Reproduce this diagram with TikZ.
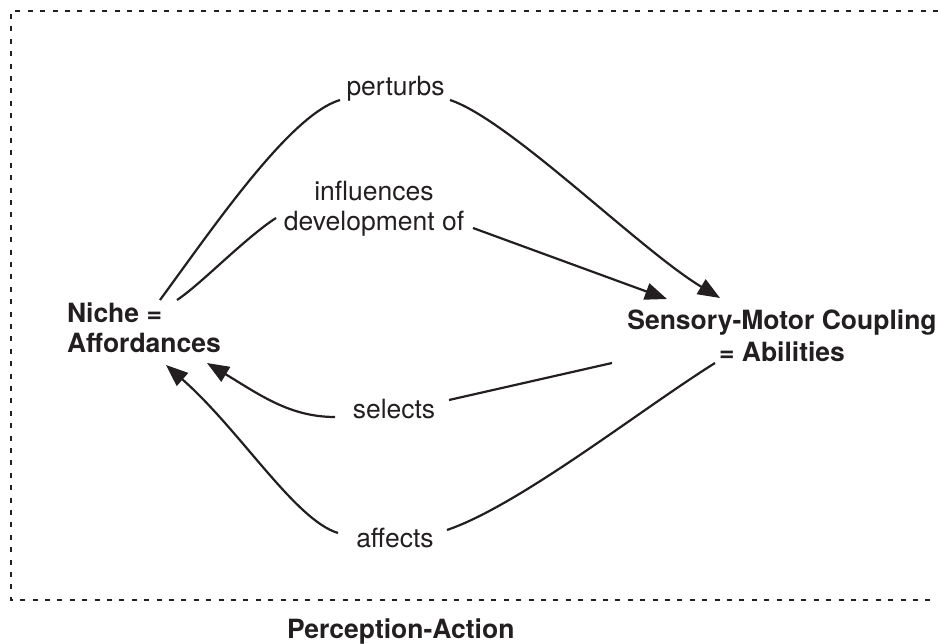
\documentclass[tikz,border=0pt]{standalone}
\usepackage{fontspec}
\setmainfont{TeX Gyre Heros}
\usetikzlibrary{arrows.meta}
\definecolor{ink}{HTML}{231F20}
\begin{document}
\begin{tikzpicture}[x=1pt,y=-1pt,
  every node/.style={inner sep=0pt,outer sep=0pt,text=ink,font=\fontsize{26.5}{30}\selectfont},
  concept/.style={font=\fontsize{26.5}{30}\selectfont\bfseries},
  rel/.style={anchor=base},
  link/.style={draw=ink,line width=2.2pt},
  arr/.style={link,-{Triangle[length=22pt,width=17pt]}},
  frame/.style={draw=ink,line width=2.2pt,dash pattern=on 5pt off 7.4pt}]
\useasboundingbox (0,0) rectangle (938,644);

% open dashed frame (top, left and bottom sides)
\draw[frame] (938,11) -- (11,11) -- (11,600) -- (930,600);
\node[concept,anchor=base west] (frametitle) at (287,638) {Perception-Action};

% the two concepts
\node[concept,align=left,anchor=north west] (niche) at (67,303) {Niche =\\Affordances};
\node[concept,align=center,anchor=north] (smc) at (782,310) {Sensory-Motor Coupling\\[2pt]= Abilities};

% relation labels
\node[rel] (perturbs) at (395.5,96) {perturbs};
\node[align=center,anchor=north] (influences) at (374,181) {influences\\development of};
\node[rel] (selects) at (394,419) {selects};
\node[rel] (affects) at (395,547) {affects};

% connector end points
\coordinate (pA) at (160,300);
\coordinate (pB) at (340,100);
\coordinate (pC) at (450,100);
\coordinate (pD) at (720,298);
\coordinate (iA) at (177,300);
\coordinate (iB) at (276,218);
\coordinate (iC) at (473,228);
\coordinate (iD) at (667,299);
\coordinate (sA) at (612,363);
\coordinate (sB) at (449,400);
\coordinate (sC) at (335,417);
\coordinate (sD) at (207,363);
\coordinate (aA) at (715,363);
\coordinate (aB) at (447,530);
\coordinate (aC) at (338,533);
\coordinate (aD) at (166,365);

% niche perturbs coupling
\draw[link] (pA) .. controls (215,225) and (290,115) .. (pB);
\draw[arr] (pC) .. controls (510,120) and (640,250) .. (pD);

% niche influences development of coupling
\draw[link] (iA) .. controls (200,285) and (245,238) .. (iB);
\draw[arr] (iC) -- (iD);

% coupling selects niche
\draw[link] (sA) -- (sB);
\draw[arr] (sC) .. controls (290,417) and (260,395) .. (sD);

% coupling affects niche
\draw[link] (aA) .. controls (640,410) and (520,505) .. (aB);
\draw[arr] (aC) .. controls (295,520) and (240,430) .. (aD);
\end{tikzpicture}
\end{document}
